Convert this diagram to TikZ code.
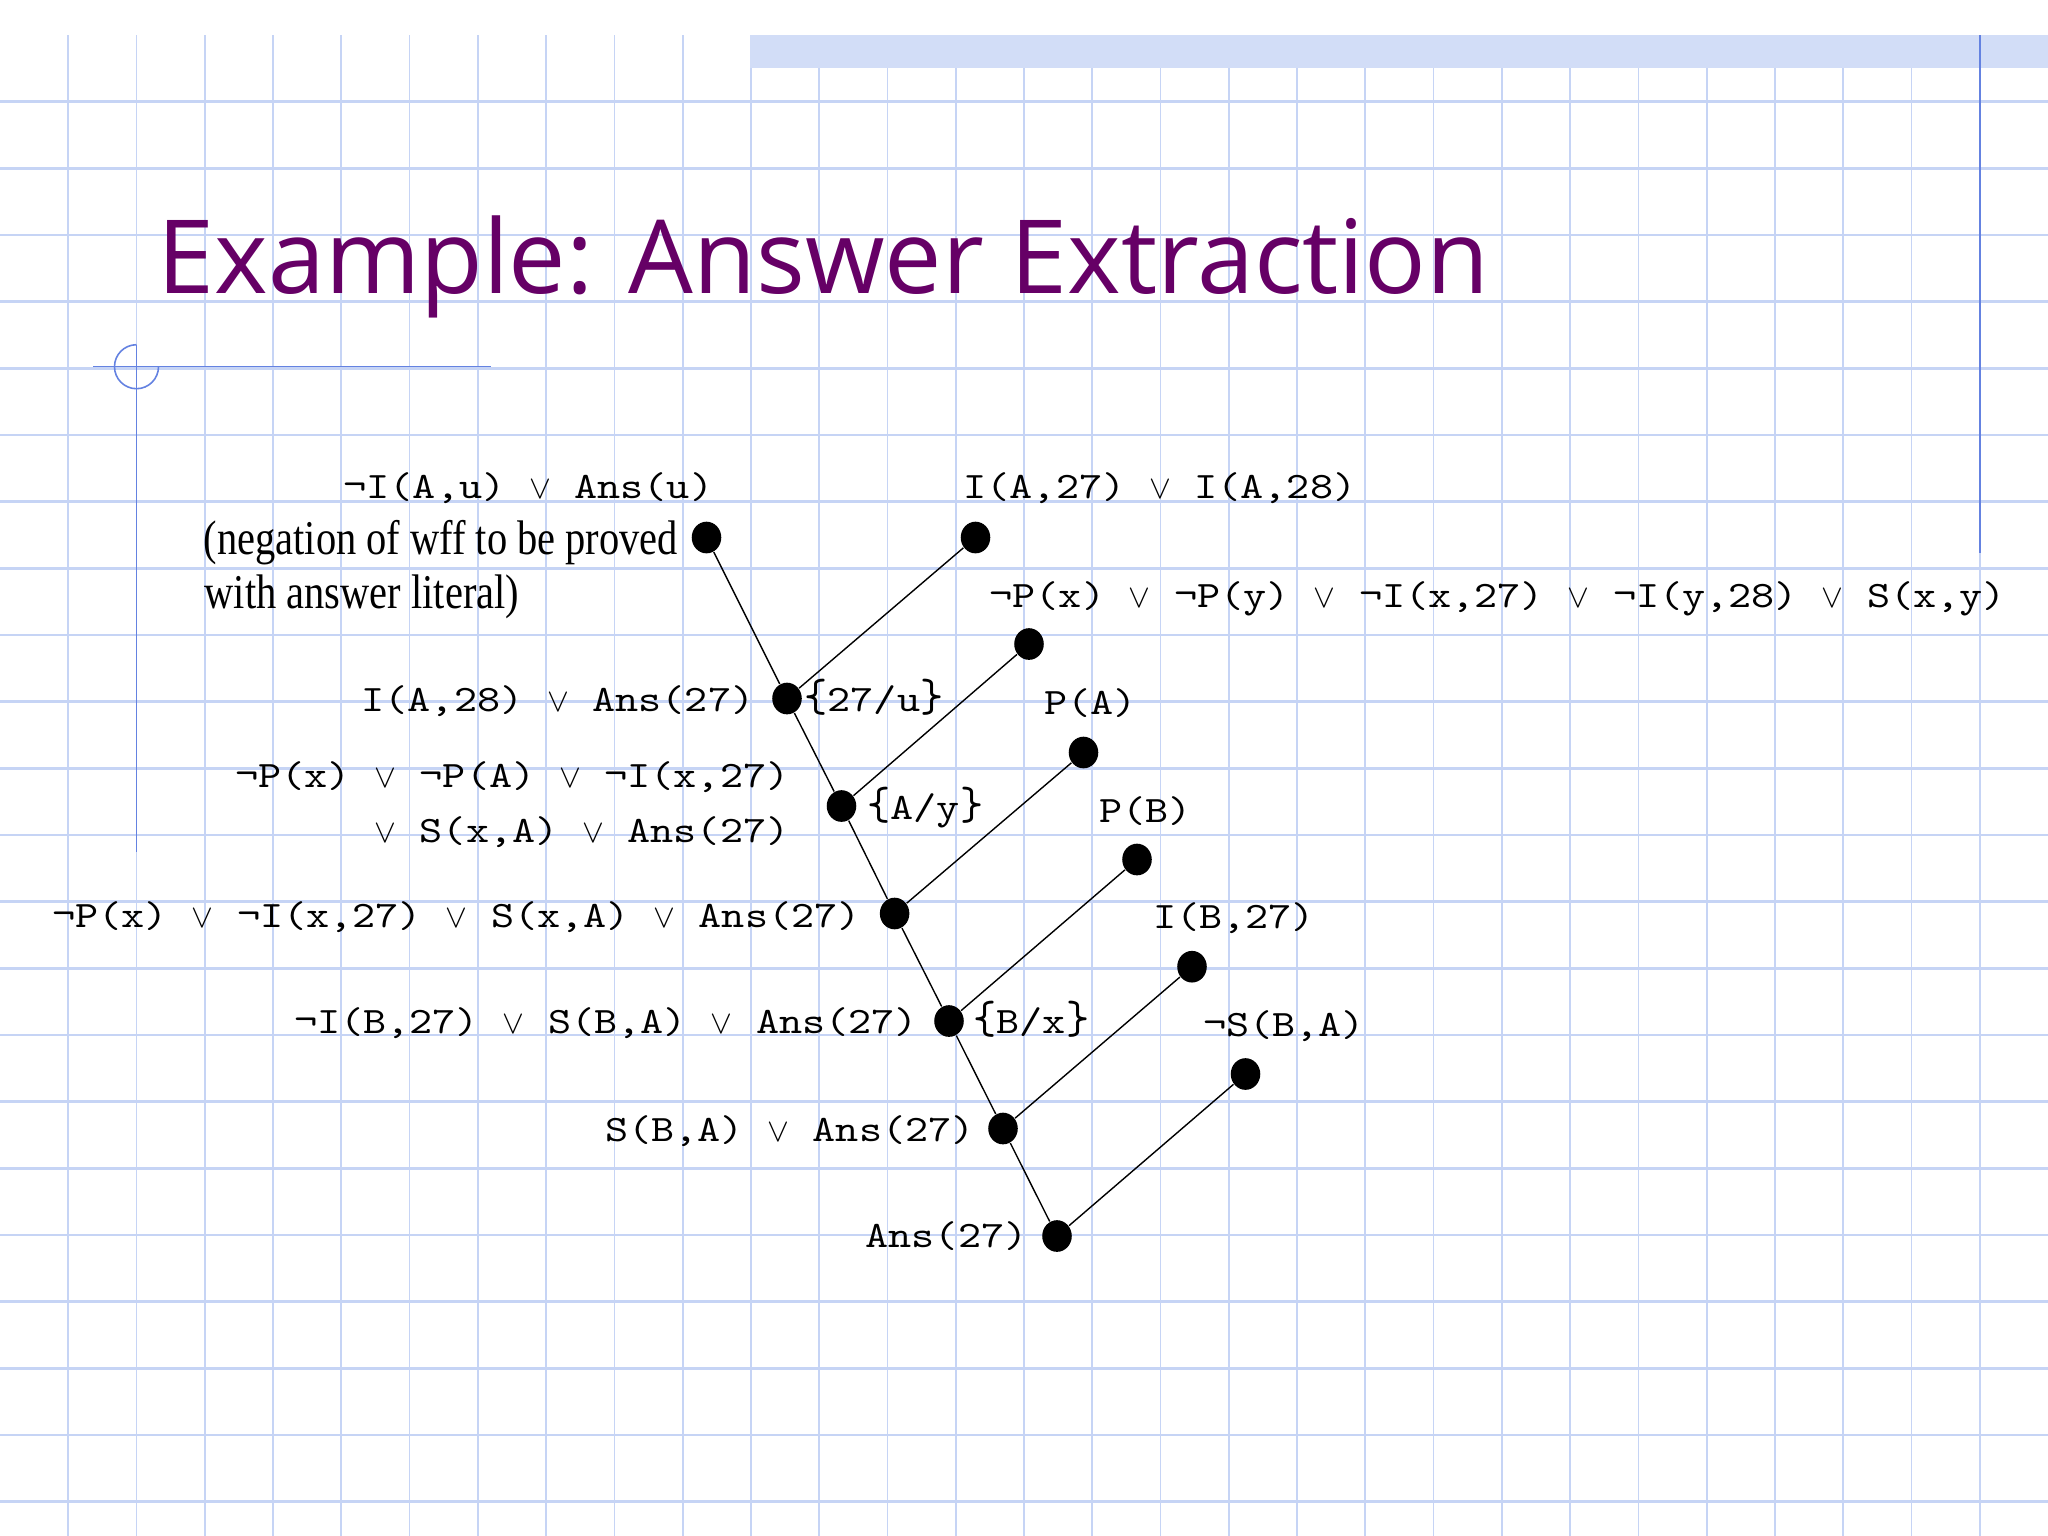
\documentclass[tikz,border=0pt]{standalone}
\usepackage{fontspec}
\usepackage{graphicx}
\setmainfont{Liberation Serif}
\newfontfamily\titlefont{Open Sans}
\newfontfamily\codefont{lmmono10-regular}[Extension=.otf,FakeStretch=1.18]
\usetikzlibrary{shapes.geometric}
\definecolor{gridblue}{RGB}{198,212,245}
\definecolor{markblue}{RGB}{100,130,225}
\definecolor{bandblue}{RGB}{210,221,247}
\definecolor{titlepurple}{RGB}{102,0,102}
\newcommand{\orv}{\makebox[6.56pt]{\scalebox{0.85}{$\vee$}}}
\newcommand{\lbr}{\scalebox{1}[1.25]{\{}}
\newcommand{\rbr}{\scalebox{1}[1.25]{\}}}
\newcommand{\tallnote}[1]{\scalebox{1}[1.2]{#1}}
\begin{document}
\begin{tikzpicture}[x=0.01cm,y=-0.01cm,
  gridv/.style={draw=gridblue,line width=0.5pt},
  gridh/.style={draw=gridblue,line width=0.75pt},
  markline/.style={draw=markblue,line width=0.45pt},
  dot/.style={ellipse,fill=black,inner sep=0pt,minimum width=8.4pt,minimum height=9pt},
  edge/.style={draw=black,line width=0.4pt},
  clause/.style={inner sep=0pt,font=\codefont\fontsize{10.6}{13}\selectfont},
  note/.style={inner sep=0pt,anchor=base west,font=\fontsize{11.5}{13}\selectfont},
]
\useasboundingbox (0,0) rectangle (2048,1536);
\fill[white] (0,0) rectangle (2048,1536);
% grid
\foreach \k in {1,...,29} \draw[gridv] ({\k*68.2667},35) -- ({\k*68.2667},1536);
\foreach \k in {1,...,22} \draw[gridh] (0,{35+\k*66.667}) -- (2048,{35+\k*66.667});
% top band
\fill[bandblue] (750,35) rectangle (2048,68);
\draw[markline] (1979.7,35) -- (1979.7,553);
% crosshair
\coordinate (chL) at (93,366.7);
\coordinate (chR) at (491,366.7);
\coordinate (chT) at (136.5,344.7);
\coordinate (chB) at (136.5,852);
\draw[markline] (chL) -- (chR);
\draw[markline] (chT) -- (chB);
\draw[markline] (chT) arc[start angle=270, end angle=0, radius=22];
% title
\node[anchor=base west,inner sep=0pt,font=\titlefont\fontsize{29.1}{34}\selectfont,text=titlepurple] (title) at (157,293) {Example: Answer Extraction};
% dots
\node[dot] (D1) at (706.5,537.5) {};
\node[dot] (D2) at (787,698.5) {};
\node[dot] (D3) at (841.5,806) {};
\node[dot] (D4) at (894.6,913.5) {};
\node[dot] (D5) at (949,1021) {};
\node[dot] (D6) at (1003,1128.5) {};
\node[dot] (D7) at (1057,1236) {};
\node[dot] (R1) at (975.5,537.5) {};
\node[dot] (R2) at (1029,644) {};
\node[dot] (R3) at (1083.5,752.5) {};
\node[dot] (R4) at (1137,859.5) {};
\node[dot] (R5) at (1192,966.7) {};
\node[dot] (R6) at (1245.5,1074) {};
% edges
\draw[edge] (D1) -- (D2);
\draw[edge] (R1) -- (D2);
\draw[edge] (D2) -- (D3);
\draw[edge] (R2) -- (D3);
\draw[edge] (D3) -- (D4);
\draw[edge] (R3) -- (D4);
\draw[edge] (D4) -- (D5);
\draw[edge] (R4) -- (D5);
\draw[edge] (D5) -- (D6);
\draw[edge] (R5) -- (D6);
\draw[edge] (D6) -- (D7);
\draw[edge] (R6) -- (D7);
% labels
\node[clause,anchor=base west] (La) at (343,498) {¬I(A,u) \orv{} Ans(u)};
\node[note] (Nb1) at (203,554.5) {\tallnote{(negation of wff to be proved}};
\node[note] (Nb2) at (204,608) {\tallnote{with answer literal)}};
\node[clause,anchor=base west] (Lb) at (963,498) {I(A,27) \orv{} I(A,28)};
\node[clause,anchor=base west] (Lc) at (989,607) {¬P(x) \orv{} ¬P(y) \orv{} ¬I(x,27) \orv{} ¬I(y,28) \orv{} S(x,y)};
\node[clause,anchor=base west] (Ld) at (361,711) {I(A,28) \orv{} Ans(27)};
\node[clause,anchor=base west] (Le) at (804,711) {\lbr 27/u\rbr};
\node[clause,anchor=base west] (Lf) at (1043.6,714) {P(A)};
\node[clause,anchor=base east] (Lg) at (790,787) {¬P(x) \orv{} ¬P(A) \orv{} ¬I(x,27)};
\node[clause,anchor=base east] (Lh) at (790,842) {\orv{} S(x,A) \orv{} Ans(27)};
\node[clause,anchor=base west] (Li) at (867,819) {\lbr A/y\rbr};
\node[clause,anchor=base west] (Lj) at (1098.6,822) {P(B)};
\node[clause,anchor=base west] (Lk) at (51.6,927) {¬P(x) \orv{} ¬I(x,27) \orv{} S(x,A) \orv{} Ans(27)};
\node[clause,anchor=base west] (Ll) at (1152.5,928) {I(B,27)};
\node[clause,anchor=base west] (Lm) at (293.6,1033) {¬I(B,27) \orv{} S(B,A) \orv{} Ans(27)};
\node[clause,anchor=base west] (Ln) at (973,1033) {\lbr B/x\rbr};
\node[clause,anchor=base west] (Lo) at (1202.3,1036) {¬S(B,A)};
\node[clause,anchor=base west] (Lp) at (604.3,1141) {S(B,A) \orv{} Ans(27)};
\node[clause,anchor=base west] (Lq) at (865,1247) {Ans(27)};
\end{tikzpicture}
\end{document}
